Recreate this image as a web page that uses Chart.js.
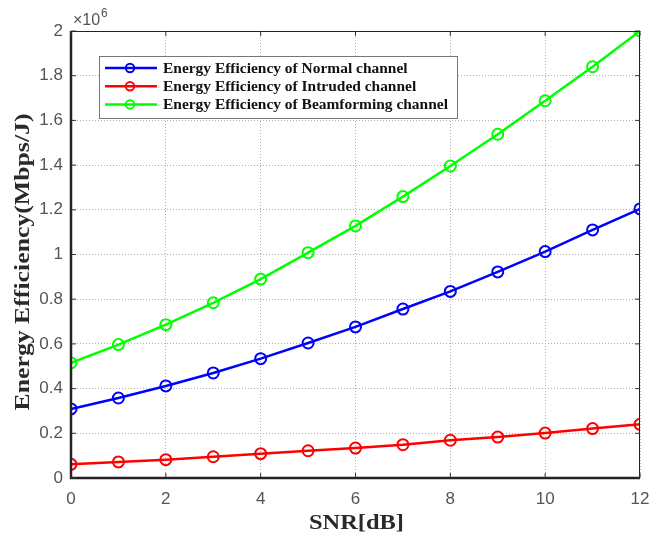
<!DOCTYPE html>
<html><head><meta charset="utf-8">
<script src="https://cdn.jsdelivr.net/npm/chart.js@4/dist/chart.umd.min.js"></script>
<style>html,body{margin:0;padding:0;background:#fff}#wrap{width:653px;height:538px}</style>
</head><body><div id="wrap"><canvas id="c" width="653" height="538"></canvas></div>
<script>
const snr = [0,1,2,3,4,5,6,7,8,9,10,11,12];
const normal = [0.309,0.358,0.412,0.470,0.534,0.604,0.676,0.756,0.835,0.922,1.013,1.110,1.204];
const intruded = [0.061,0.072,0.082,0.095,0.109,0.122,0.134,0.149,0.169,0.183,0.201,0.221,0.240];
const beam = [0.515,0.597,0.686,0.784,0.890,1.008,1.128,1.259,1.396,1.538,1.688,1.840,2.0];
const labels = ['Energy Efficiency of Normal channel','Energy Efficiency of Intruded channel','Energy Efficiency of Beamforming channel'];
const colors = ['#0000ff','#ff0000','#00ff00'];
const yTicks = [0,0.2,0.4,0.6,0.8,1,1.2,1.4,1.6,1.8,2];
const xTicks = [0,2,4,6,8,10,12];
const xTitle = 'SNR[dB]';
const yTitle = 'Energy Efficiency(Mbps/J)';

function mk(vals,i){return {label:labels[i],data:snr.map((x,k)=>({x:x,y:vals[k]})),borderColor:colors[i],backgroundColor:'rgba(0,0,0,0)',pointBackgroundColor:'rgba(0,0,0,0)',pointBorderColor:colors[i],pointRadius:5.5,pointBorderWidth:2,borderWidth:2.5,tension:0};}

const serif='"Liberation Serif", "Times New Roman", serif';
function stretchText(ctx,text,cx,cy,targetW,rot){
  ctx.save();
  ctx.translate(cx,cy); if(rot) ctx.rotate(rot);
  const w=ctx.measureText(text).width;
  ctx.scale(targetW/w,1);
  ctx.textAlign='center'; ctx.textBaseline='middle';
  ctx.fillText(text,0,0);
  ctx.restore();
}

const deco = {
  id:'deco',
  afterDraw(chart){
    const ctx=chart.ctx, a=chart.chartArea, xs=chart.scales.x, ys=chart.scales.y;
    ctx.save();
    ctx.strokeStyle='#222'; ctx.lineWidth=1;
    ctx.strokeRect(a.left+0.5,a.top+0.5,a.right-a.left-1,a.bottom-a.top-1);
    ctx.lineWidth=2.5; ctx.strokeStyle='#222';
    ctx.beginPath(); ctx.moveTo(a.left,a.top); ctx.lineTo(a.left,a.bottom); ctx.lineTo(a.right,a.bottom); ctx.stroke();
    ctx.lineWidth=1; ctx.strokeStyle='#333';
    ctx.beginPath();
    xTicks.forEach(v=>{const p=xs.getPixelForValue(v); ctx.moveTo(p,a.bottom); ctx.lineTo(p,a.bottom-5); ctx.moveTo(p,a.top); ctx.lineTo(p,a.top+5);});
    yTicks.forEach(v=>{const p=ys.getPixelForValue(v); ctx.moveTo(a.left,p); ctx.lineTo(a.left+5,p); ctx.moveTo(a.right,p); ctx.lineTo(a.right-5,p);});
    ctx.stroke();
    ctx.fillStyle='#555'; ctx.font='16px "Liberation Sans", Arial'; ctx.textBaseline='alphabetic'; ctx.textAlign='left';
    ctx.fillText('\u00d710',73,25);
    ctx.font='12px "Liberation Sans", Arial'; ctx.fillText('6',101,17);
    ctx.fillStyle='#2a2a2a';
    ctx.font='bold 22px '+serif;
    stretchText(ctx,xTitle,(a.left+a.right)/2+1,523,95,0);
    stretchText(ctx,yTitle,23,262,297,-Math.PI/2);
    const lx=99, ly=56, lw=358, lh=62;
    ctx.fillStyle='#fff'; ctx.fillRect(lx,ly,lw,lh);
    ctx.strokeStyle='#777'; ctx.lineWidth=1; ctx.strokeRect(lx+0.5,ly+0.5,lw,lh);
    ctx.font='bold 15px '+serif; ctx.textBaseline='middle'; ctx.textAlign='left';
    chart.data.datasets.forEach((d,i)=>{
      const y=ly+12+i*18.2;
      ctx.strokeStyle=d.borderColor; ctx.lineWidth=2.5;
      ctx.beginPath(); ctx.moveTo(lx+6,y); ctx.lineTo(lx+58,y); ctx.stroke();
      ctx.lineWidth=2; ctx.beginPath(); ctx.arc(lx+31,y,4.2,0,Math.PI*2); ctx.stroke();
      ctx.fillStyle='#111';
      const w=ctx.measureText(d.label).width;
      const tw = w*1.03;
      ctx.save(); ctx.translate(lx+64,y+1); ctx.scale(tw/w,1); ctx.fillText(d.label,0,0); ctx.restore();
    });
    ctx.restore();
  }
};

new Chart(document.getElementById('c'),{
  type:'line',
  data:{datasets:[mk(normal,0),mk(intruded,1),mk(beam,2)]},
  options:{
    responsive:false,animation:false,
    layout:{padding:{left:0,right:13,top:31,bottom:0}},
    plugins:{legend:{display:false},tooltip:{enabled:false}},
    scales:{
      x:{type:'linear',min:0,max:12,
        afterBuildTicks(s){s.ticks=xTicks.map(v=>({value:v}));},
        afterFit(s){s.height=60;s.paddingLeft=0;s.paddingRight=0;},
        grid:{color:'#b0b0b0',lineWidth:1,drawTicks:false},
        border:{display:false,dash:[1,2]},
        ticks:{padding:11,color:'#555',font:{family:'"Liberation Sans", Arial',size:17},maxRotation:0},
        title:{display:false}
      },
      y:{type:'linear',min:0,max:2,
        afterBuildTicks(s){s.ticks=yTicks.map(v=>({value:v}));},
        afterFit(s){s.width=71;s.paddingTop=0;s.paddingBottom=0;},
        grid:{color:'#b0b0b0',lineWidth:1,drawTicks:false},
        border:{display:false,dash:[1,2]},
        ticks:{padding:8,color:'#555',font:{family:'"Liberation Sans", Arial',size:17},callback:v=>String(v)},
        title:{display:false}
      }
    }
  },
  plugins:[deco]
});
</script></body></html>
